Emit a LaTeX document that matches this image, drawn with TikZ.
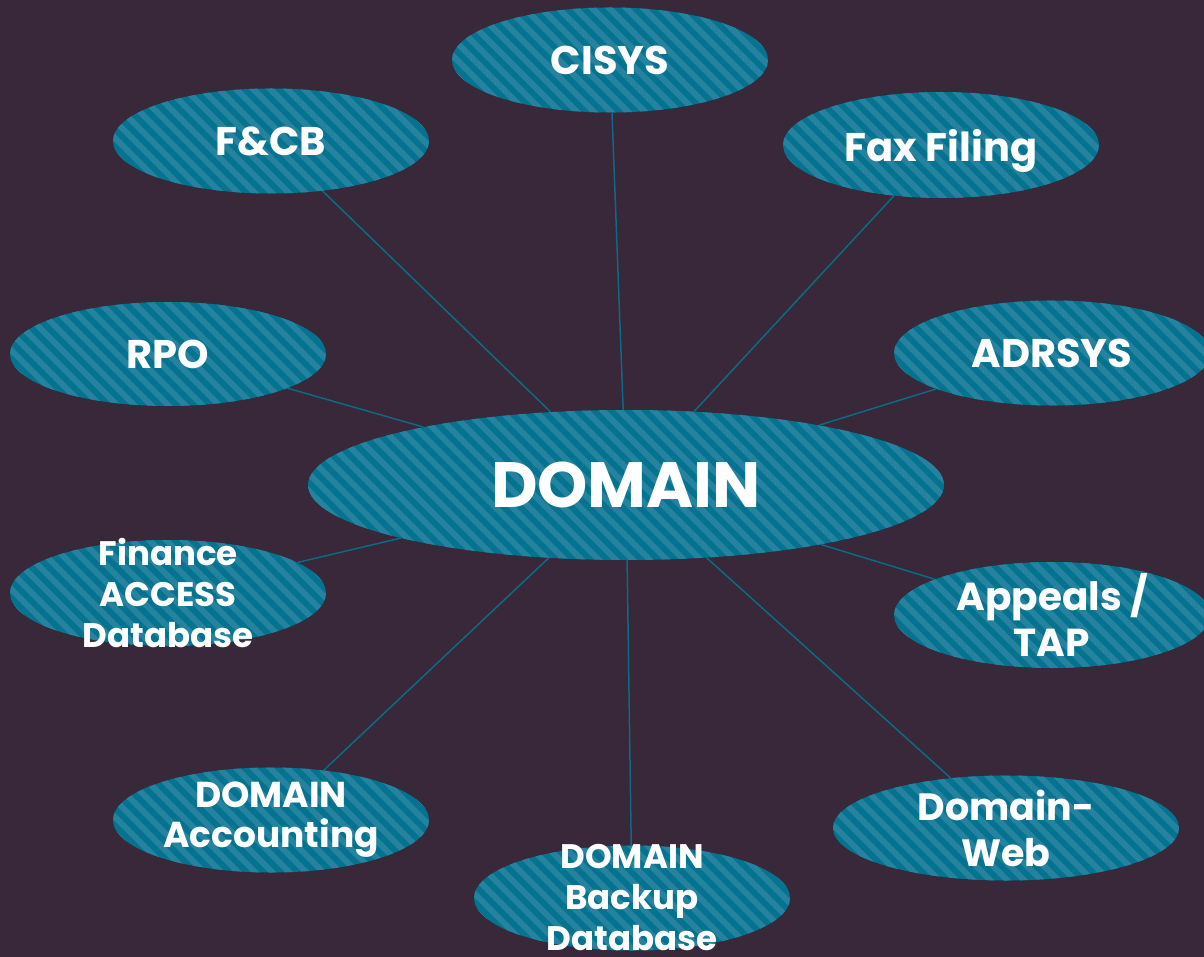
\documentclass[tikz,border=0pt]{standalone}
\usepackage{fontspec}
\setmainfont{Poppins}
\usetikzlibrary{shapes.geometric}
\definecolor{bgc}{HTML}{382839}
\definecolor{ovdark}{HTML}{03738F}
\definecolor{ovlight}{HTML}{2583A0}
\definecolor{linkc}{HTML}{0D6A84}
\begin{document}
\begin{tikzpicture}[x=1pt,y=-1pt,
  oval/.style n args={2}{ellipse, minimum width=#1, minimum height=#2, inner sep=0pt,
    fill=ovdark, draw=none,
    path picture={\foreach \k in {-28,...,28}
      \draw[ovlight, line width=6pt] ([shift={(\k*17,0)}]path picture bounding box.center) ++(-200,-200) -- ++(400,400);}},
  lbl/.style={text=white, font=\bfseries\fontsize{40}{48}\selectfont, inner sep=0pt, text depth=0pt},
  lblm/.style={text=white, align=center, inner sep=0pt},
  link/.style={draw=linkc, line width=1.5pt}]
\useasboundingbox (0,0) rectangle (1204,957);
\fill[bgc] (0,0) rectangle (1204,957);

\node[oval={636}{150}] (domain) at (626,485) {};
\node[oval={316}{105}] (cisys) at (610,60) {};
\node[oval={316}{105}] (fcb) at (271,141) {};
\node[oval={316}{106}] (fax) at (941,145) {};
\node[oval={316}{104}] (rpo) at (168,354) {};
\node[oval={316}{105}] (adrsys) at (1052,353) {};
\node[oval={316}{106}] (finance) at (168,593) {};
\node[oval={316}{106}] (appeals) at (1052,615) {};
\node[oval={316}{105}] (acct) at (271,820) {};
\node[oval={346}{105}] (web) at (1006,828) {};
\node[oval={316}{105}] (backup) at (632,898) {};

\foreach \n in {cisys,fcb,fax,rpo,adrsys,finance,appeals,acct,web,backup}
  \draw[link] (domain) -- (\n);

\node[lbl, font=\bfseries\fontsize{64}{72}\selectfont] (tdomain) at (domain.center) {DOMAIN};
\node[lbl] (tcisys) at (cisys.center) {CISYS};
\node[lbl] (tfcb) at (fcb.center) {F\&CB};
\node[lbl] (tfax) at (fax.center) {Fax Filing};
\node[lbl] (trpo) at (rpo.center) {RPO};
\node[lbl] (tadrsys) at (adrsys.center) {ADRSYS};
\node[lblm, font=\bfseries\fontsize{34}{41}\selectfont] (tfinance) at (finance.center) {Finance\\ACCESS\\Database};
\node[lblm, font=\bfseries\fontsize{39}{46}\selectfont] (tappeals) at (appeals.center) {Appeals /\\TAP};
\node[lblm, font=\bfseries\fontsize{36}{40}\selectfont] (tacct) at (acct.center) {DOMAIN\\Accounting};
\node[lblm, font=\bfseries\fontsize{38}{46}\selectfont] (tweb) at (web.center) {Domain-\\Web};
\node[lblm, font=\bfseries\fontsize{34}{41}\selectfont] (tbackup) at (backup.center) {DOMAIN\\Backup\\Database};
\end{tikzpicture}
\end{document}
